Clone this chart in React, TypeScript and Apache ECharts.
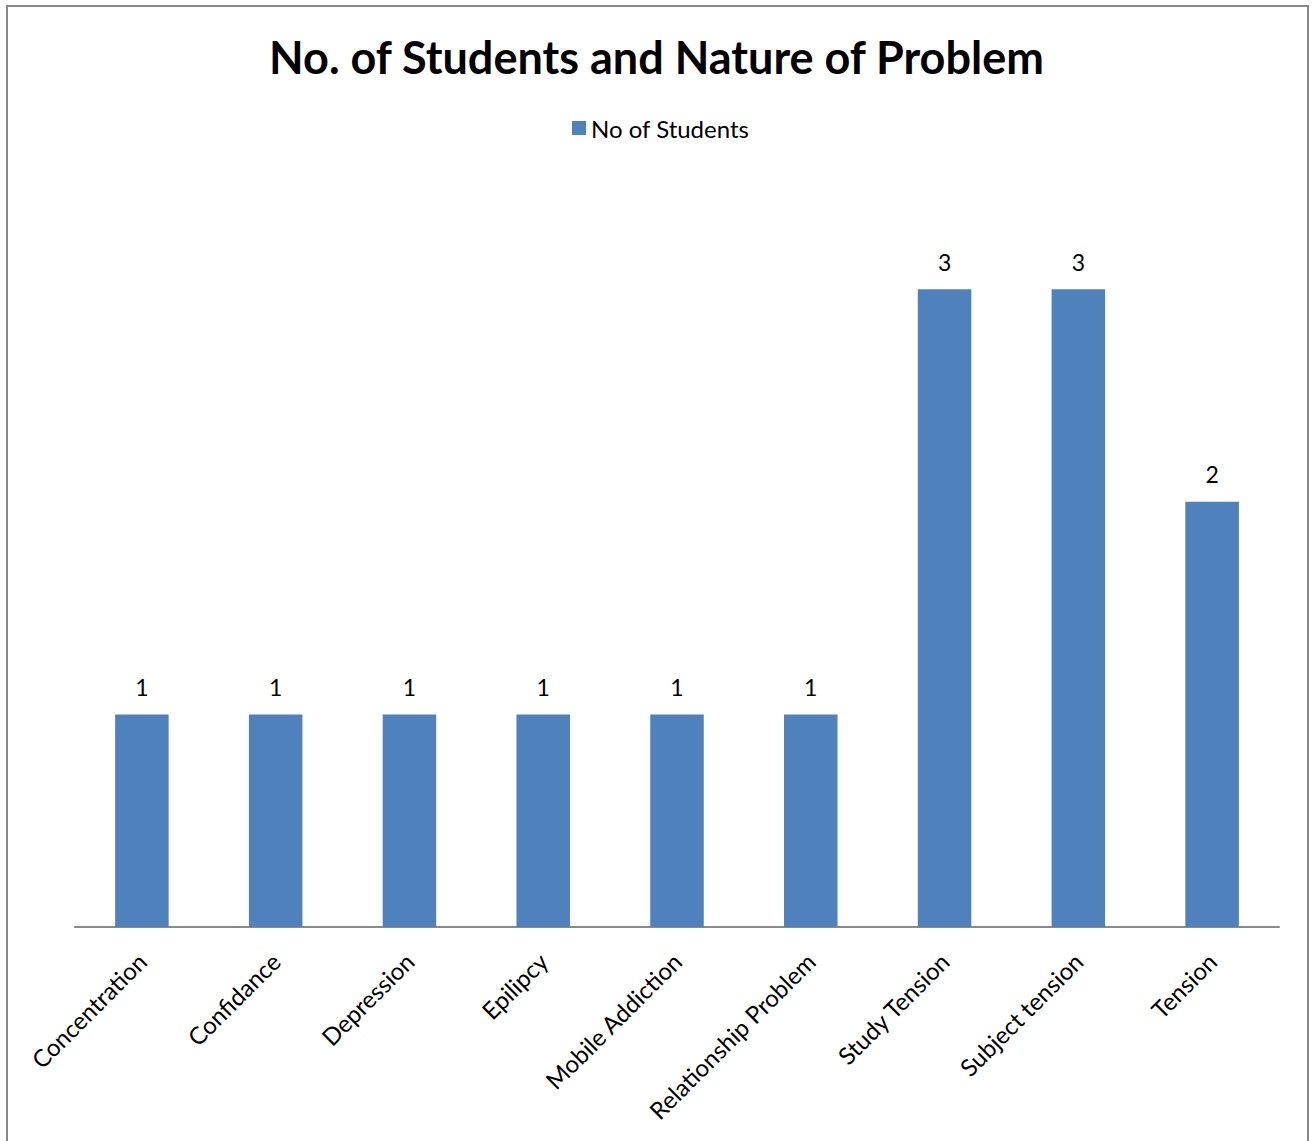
import React, { useEffect, useRef } from "react";
import * as echarts from "echarts";

const categories = [
  "Concentration",
  "Confidance",
  "Depression",
  "Epilipcy",
  "Mobile Addiction",
  "Relationship Problem",
  "Study Tension",
  "Subject tension",
  "Tension",
];
const studentCounts = [1, 1, 1, 1, 1, 1, 3, 3, 2];
const seriesName = "No of Students";
const titleText = "No. of Students and Nature of Problem";

const FONT = "Lato";

export default function App() {
  const ref = useRef<HTMLDivElement>(null);
  useEffect(() => {
    if (!ref.current) return;
    const chart = echarts.init(ref.current, undefined, { renderer: "svg" });
    chart.setOption({
      animation: false,
      backgroundColor: "#ffffff",
      title: {
        text: titleText,
        left: "center",
        top: 29,
        textStyle: { fontFamily: FONT, fontWeight: "bold", fontSize: 45, color: "#000" },
      },
      legend: {
        data: [seriesName],
        top: 111,
        left: 567,
        itemWidth: 14,
        itemHeight: 14,
        itemGap: 7,
        icon: "rect",
        textStyle: { fontFamily: FONT, fontSize: 24, color: "#000" },
      },
      graphic: [
        {
          type: "rect",
          shape: { x: 7, y: 6, width: 1301, height: 1160 },
          style: { fill: "none", stroke: "#878787", lineWidth: 2 },
          silent: true,
        },
      ],
      grid: { left: 75, right: 34, top: 183, bottom: 1141 - 927 },
      xAxis: {
        type: "category",
        data: categories,
        axisLine: { show: true, lineStyle: { color: "#8a8a8a", width: 2 } },
        axisTick: { show: false },
        axisLabel: {
          rotate: 45,
          interval: 0,
          margin: 30,
          fontFamily: FONT,
          fontSize: 24,
          color: "#000",
        },
      },
      yAxis: {
        type: "value",
        min: 0,
        max: 3.5,
        show: false,
        splitLine: { show: false },
      },
      series: [
        {
          name: seriesName,
          type: "bar",
          data: studentCounts,
          barCategoryGap: "60%",
          itemStyle: { color: "#4F81BD" },
          label: {
            show: true,
            position: "top",
            distance: 16,
            fontFamily: FONT,
            fontSize: 23,
            color: "#000",
          },
        },
      ],
    });
    return () => chart.dispose();
  }, []);
  return (
    <div
      ref={ref}
      style={{ position: "absolute", left: 0, top: 0, width: 1313, height: 1141 }}
    />
  );
}
